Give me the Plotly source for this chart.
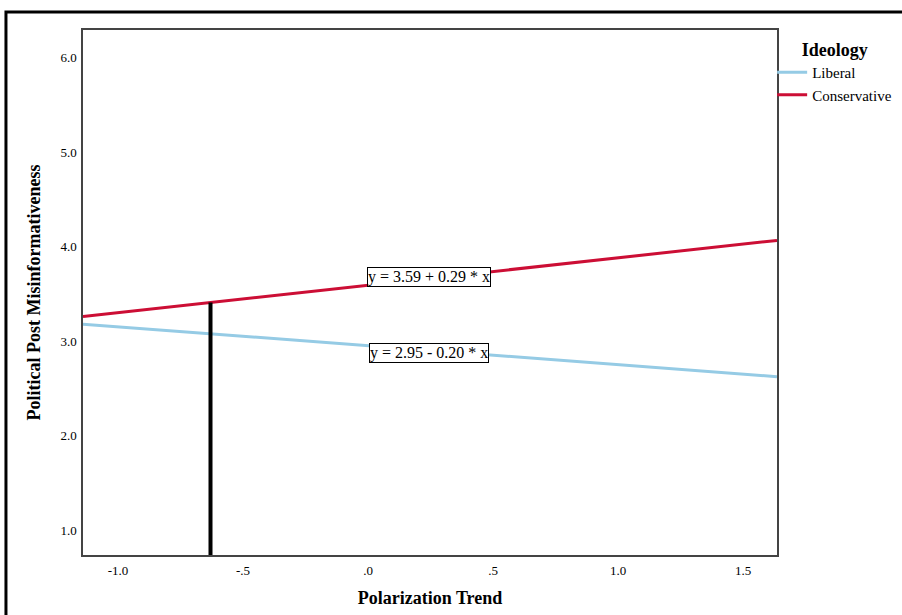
import plotly.graph_objects as go

# ---- data ----
groups = ["Liberal", "Conservative"]
intercepts = [2.95, 3.59]
slopes = [-0.20, 0.29]
colors = ["#95CBE5", "#CC0E35"]
equation_labels = ["y = 2.95 - 0.20 * x", "y = 3.59 + 0.29 * x"]
label_x = [0.245, 0.245]
label_y = [2.87, 3.675]

x_range = [-1.14, 1.636]
y_range = [0.736, 6.29]
x_tickvals = [-1.0, -0.5, 0.0, 0.5, 1.0, 1.5]
x_ticktext = ["-1.0", "-.5", ".0", ".5", "1.0", "1.5"]
y_tickvals = [1.0, 2.0, 3.0, 4.0, 5.0, 6.0]
y_ticktext = ["1.0", "2.0", "3.0", "4.0", "5.0", "6.0"]

ref_x = -0.63  # vertical reference line position

FONT = "Liberation Serif, Times New Roman, serif"

fig = go.Figure()

for g, a, b, c in zip(groups, intercepts, slopes, colors):
    xs = x_range
    ys = [a + b * v for v in xs]
    fig.add_trace(go.Scatter(x=xs, y=ys, mode="lines", name=g,
                             line=dict(color=c, width=3)))

# vertical reference line up to the conservative line
ref_top = intercepts[1] + slopes[1] * ref_x
fig.add_trace(go.Scatter(x=[ref_x, ref_x], y=[y_range[0], ref_top], mode="lines",
                         line=dict(color="black", width=4), showlegend=False,
                         hoverinfo="skip"))

for t, lx, ly in zip(equation_labels, label_x, label_y):
    fig.add_annotation(x=lx, y=ly, text=t, showarrow=False,
                       font=dict(family=FONT, size=16, color="black"),
                       bgcolor="white", bordercolor="black", borderwidth=1, borderpad=0)

# outer frame (left and top edges)
fig.add_shape(type="path", xref="paper", yref="paper",
              path="M -0.111,-0.2 L -0.111,1.0343 L 1.3,1.0343",
              line=dict(color="black", width=3))

fig.update_layout(
    width=902, height=615,
    margin=dict(l=83, r=125, t=30, b=60, autoexpand=False),
    paper_bgcolor="white", plot_bgcolor="white",
    font=dict(family=FONT, color="black"),
    legend=dict(
        title=dict(text="<b>Ideology</b>", font=dict(family=FONT, size=18), side="top center"),
        font=dict(family=FONT, size=15),
        x=0.993, xanchor="left", y=0.995, yanchor="top",
        bgcolor="rgba(0,0,0,0)", tracegroupgap=0, itemwidth=30,
    ),
    xaxis=dict(range=x_range, tickvals=x_tickvals, ticktext=x_ticktext,
               showgrid=False, zeroline=False, showline=True, mirror=True,
               linecolor="#444", linewidth=1.5, ticks="", ticklabelstandoff=3,
               tickfont=dict(family=FONT, size=13), automargin=False,
               title=dict(text="<b>Polarization Trend</b>", font=dict(family=FONT, size=18),
                          standoff=14)),
    yaxis=dict(range=y_range, tickvals=y_tickvals, ticktext=y_ticktext,
               showgrid=False, zeroline=False, showline=True, mirror=True,
               linecolor="#444", linewidth=1.5, ticks="", ticklabelstandoff=2,
               tickfont=dict(family=FONT, size=13), automargin=False,
               title=dict(text="<b>Political Post Misinformativeness</b>",
                          font=dict(family=FONT, size=18), standoff=15)),
)

fig.write_html("out.html", config={"displayModeBar": False},
               post_script="document.body.style.margin='0';")
